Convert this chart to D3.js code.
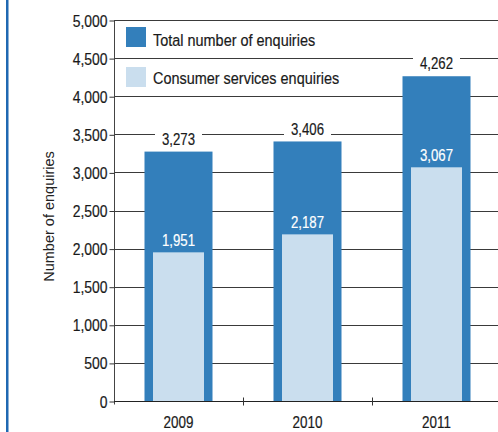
<!DOCTYPE html>
<html>
<head>
<meta charset="utf-8">
<script src="https://cdn.jsdelivr.net/npm/d3@7"></script>
<style>
  html, body { margin: 0; padding: 0; background: #fff; }
  svg { display: block; }
  text { font-family: "Liberation Sans", Arial, sans-serif; }
</style>
</head>
<body>
<svg id="chart" width="498" height="432"></svg>
<script>
// Enquiries per year
const years = ["2009", "2010", "2011"];
const totalEnquiries = [3273, 3406, 4262];
const consumerEnquiries = [1951, 2187, 3067];
const yTicks = [0, 500, 1000, 1500, 2000, 2500, 3000, 3500, 4000, 4500, 5000];
const legendLabels = ["Total number of enquiries", "Consumer services enquiries"];

const colTotal = "#337fbb";
const colConsumer = "#cadeee";
const ink = "#1a1a1a";
const fmt = d3.format(",");

const svg = d3.select("#chart");
const W = 498, H = 432;
const margin = { left: 114, top: 20, right: 0, bottom: 31 };

const x = d3.scaleBand().domain(years).range([margin.left, 501]).padding(0);
const y = d3.scaleLinear().domain([0, 5000]).range([H - margin.bottom, margin.top]);

// condensed-looking text: horizontally squeezed around its anchor point,
// with a hairline stroke to give it a medium weight
function narrowText(parent, px, py, str, opt) {
  const fill = opt.fill || ink;
  return parent.append("text")
    .attr("transform", `translate(${px},${py}) scale(${opt.sx},1)`)
    .attr("text-anchor", opt.anchor || "start")
    .attr("font-size", opt.size)
    .attr("fill", fill)
    .attr("stroke", fill)
    .attr("stroke-width", 0.2)
    .text(str);
}

// blue frame line on the left edge
svg.append("rect").attr("x", 6).attr("y", 0).attr("width", 2.5).attr("height", H).attr("fill", "#1f68b2");

// horizontal gridlines
svg.append("g").selectAll("line").data(yTicks.filter(d => d > 0)).join("line")
  .attr("x1", margin.left).attr("x2", W)
  .attr("y1", d => Math.round(y(d)) + 0.5).attr("y2", d => Math.round(y(d)) + 0.5)
  .attr("stroke", "#3a3a3a").attr("stroke-width", 1);

// y axis
const yAxis = svg.append("g")
  .attr("transform", `translate(${margin.left + 0.5},0.5)`)
  .call(d3.axisLeft(y).tickValues(yTicks).tickFormat(fmt).tickSize(5));
yAxis.select(".domain").attr("d", `M0,${margin.top - 0.5}V${H - margin.bottom + 3}`).attr("stroke", "#444");
yAxis.selectAll(".tick line").attr("stroke", "#333");
yAxis.selectAll(".tick text").remove();
yAxis.selectAll(".tick").each(function(d) {
  narrowText(d3.select(this), -7, 5.5, fmt(d), { sx: 0.87, size: 16, anchor: "end" });
});

// x axis: ticks between categories
const xAxisG = svg.append("g").attr("transform", `translate(0,${Math.round(y(0)) + 0.5})`);
xAxisG.append("line").attr("x1", margin.left).attr("x2", W).attr("stroke", "#222");
xAxisG.selectAll("line.sep").data(years.slice(1)).join("line").attr("class", "sep")
  .attr("x1", d => Math.round(x(d)) + 0.5).attr("x2", d => Math.round(x(d)) + 0.5)
  .attr("y1", -4).attr("y2", 4).attr("stroke", "#333");
years.forEach(d => {
  narrowText(xAxisG, x(d) + x.bandwidth() / 2, 26.5, d, { sx: 0.84, size: 16, anchor: "middle" });
});

// y axis title
svg.append("text")
  .attr("transform", `translate(54,${(y(0) + y(5000)) / 2 + 6}) rotate(-90)`)
  .attr("text-anchor", "middle")
  .attr("font-size", 14.5).attr("fill", "#222").text("Number of enquiries");

// bars
const outerW = 68, innerW = 51;
const bars = svg.append("g");
bars.selectAll("rect.total").data(years).join("rect").attr("class", "total")
  .attr("x", d => x(d) + x.bandwidth() / 2 - outerW / 2)
  .attr("width", outerW)
  .attr("y", (d, i) => y(totalEnquiries[i]))
  .attr("height", (d, i) => y(0) - y(totalEnquiries[i]))
  .attr("fill", colTotal);
bars.selectAll("rect.consumer").data(years).join("rect").attr("class", "consumer")
  .attr("x", d => x(d) + x.bandwidth() / 2 - innerW / 2)
  .attr("width", innerW)
  .attr("y", (d, i) => y(consumerEnquiries[i]))
  .attr("height", (d, i) => y(0) - y(consumerEnquiries[i]))
  .attr("fill", colConsumer);

// value labels: totals on a white knock-out, consumer figures in white
const labels = svg.append("g");
years.forEach((d, i) => {
  const cx = x(d) + x.bandwidth() / 2;
  const cy = y(totalEnquiries[i]) - 12.5;
  labels.append("rect").attr("x", cx - 23.5).attr("y", cy - 9.5).attr("width", 47).attr("height", 19).attr("fill", "#fff");
  narrowText(labels, cx, cy + 5.7, fmt(totalEnquiries[i]), { sx: 0.8, size: 16.5, anchor: "middle" });
  narrowText(labels, cx, y(consumerEnquiries[i]) - 6.5, fmt(consumerEnquiries[i]),
    { sx: 0.8, size: 16.5, anchor: "middle", fill: "#fff" });
});

// legend
const legend = svg.append("g");
[colTotal, colConsumer].forEach((c, i) => {
  legend.append("rect").attr("x", 126).attr("y", 27 + i * 40).attr("width", 20).attr("height", 20).attr("fill", c);
  narrowText(legend, 153, 45.5 + i * 38.5, legendLabels[i], { sx: 0.85, size: 17 });
});
</script>
</body>
</html>
